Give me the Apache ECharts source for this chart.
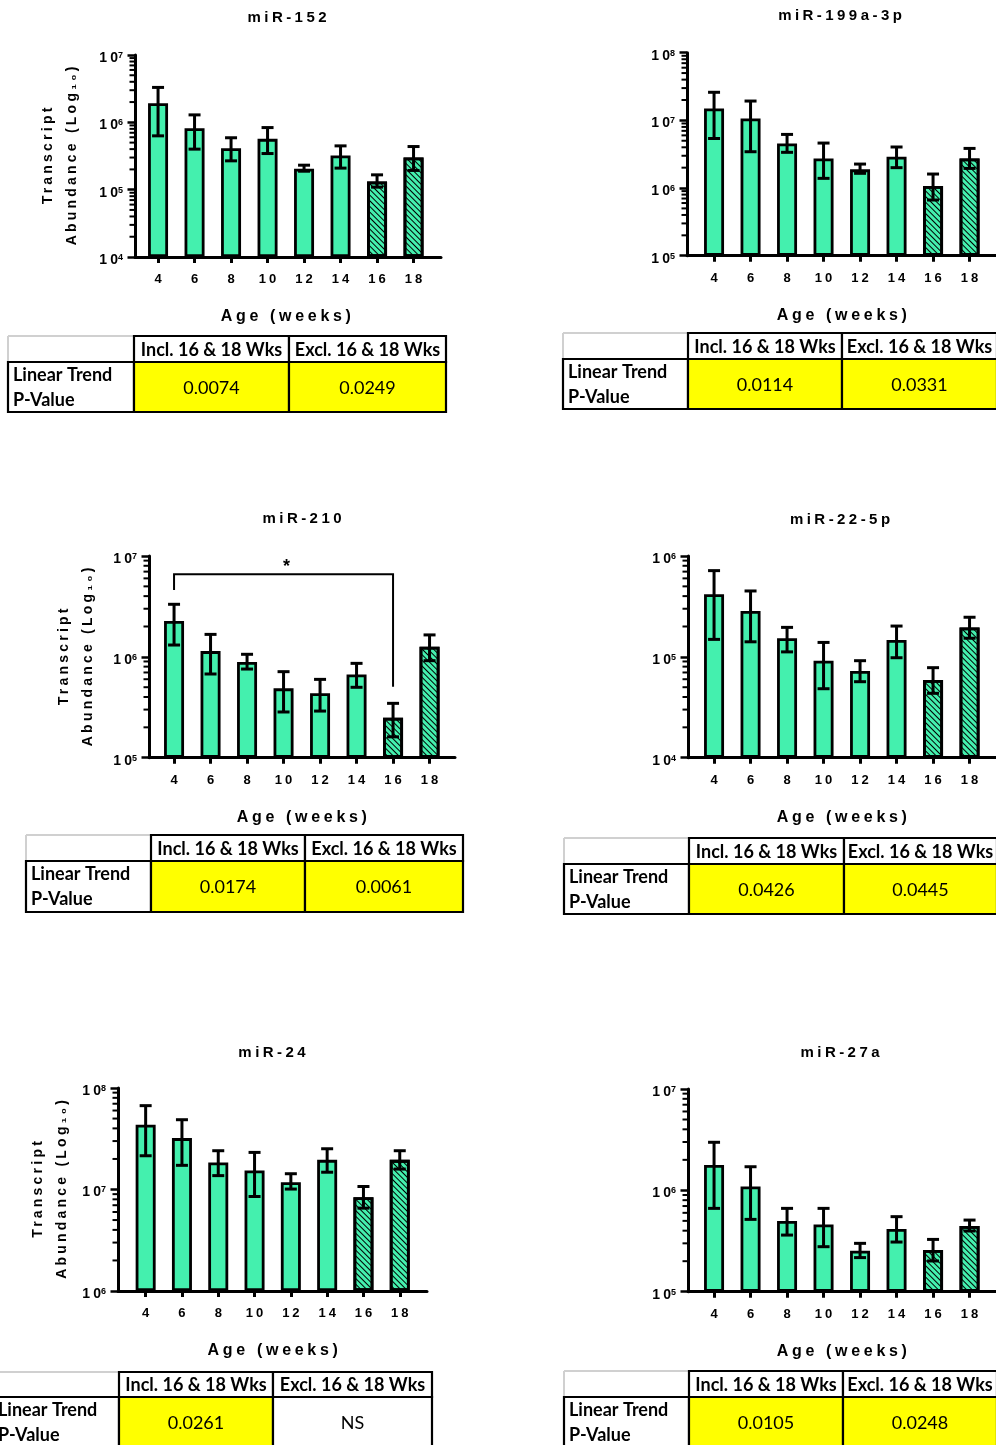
<!DOCTYPE html>
<html><head><meta charset="utf-8">
<style>html,body{margin:0;padding:0;background:#fff}#c{width:996px;height:1445px}</style>
<script src="https://cdn.jsdelivr.net/npm/echarts@6/dist/echarts.min.js"></script>
</head><body><div id="c"></div>
<script>
// ---------- DATA ----------
const ages = ['4','6','8','10','12','14','16','18'];
const hatchedAges = ['16','18'];
const xAxisName = 'Age (weeks)';
const yAxisName = 'Transcript\nAbundance (Log\u2081\u2080)';
const titles = ['miR-152','miR-199a-3p','miR-210','miR-22-5p','miR-24','miR-27a'];

const mean152 = [1.92e6, 8.2e5, 4.13e5, 5.68e5, 2.04e5, 3.21e5, 1.32e5, 3.0e5];
const hi152   = [3.3e6, 1.29e6, 5.9e5, 8.36e5, 2.31e5, 4.47e5, 1.66e5, 4.37e5];
const lo152   = [6.3e5, 4.0e5, 2.68e5, 3.44e5, 1.88e5, 2.09e5, 1.09e5, 1.93e5];

const mean199 = [1.50e7, 1.07e7, 4.57e6, 2.74e6, 1.89e6, 2.9e6, 1.07e6, 2.74e6];
const hi199   = [2.6e7, 1.93e7, 6.2e6, 4.62e6, 2.26e6, 4.04e6, 1.61e6, 3.85e6];
const lo199   = [5.4e6, 3.44e6, 3.37e6, 1.39e6, 1.65e6, 2.0e6, 6.65e5, 1.95e6];

const mean210 = [2.27e6, 1.14e6, 8.89e5, 4.87e5, 4.35e5, 6.7e5, 2.49e5, 1.26e6];
const hi210   = [3.32e6, 1.67e6, 1.06e6, 7.13e5, 5.98e5, 8.62e5, 3.46e5, 1.65e6];
const lo210   = [1.31e6, 6.76e5, 7.57e5, 2.84e5, 2.9e5, 4.99e5, 1.61e5, 9.16e5];

const mean22 = [4.17e5, 2.85e5, 1.53e5, 9.16e4, 7.24e4, 1.47e5, 5.89e4, 1.96e5];
const hi22   = [7.16e5, 4.5e5, 1.96e5, 1.39e5, 9.16e4, 2.02e5, 7.81e4, 2.47e5];
const lo22   = [1.49e5, 1.41e5, 1.12e5, 4.83e4, 5.67e4, 9.8e4, 4.35e4, 1.53e5];

const mean24 = [4.35e7, 3.21e7, 1.85e7, 1.54e7, 1.18e7, 1.96e7, 8.4e6, 1.96e7];
const hi24   = [6.7e7, 4.87e7, 2.41e7, 2.32e7, 1.43e7, 2.52e7, 1.07e7, 2.41e7];
const lo24   = [2.15e7, 1.73e7, 1.37e7, 8.53e6, 1.01e7, 1.48e7, 6.55e6, 1.59e7];

const mean27 = [1.78e6, 1.09e6, 4.98e5, 4.61e5, 2.54e5, 4.15e5, 2.58e5, 4.45e5];
const hi27   = [2.98e6, 1.71e6, 6.64e5, 6.64e5, 3.0e5, 5.5e5, 3.28e5, 5.09e5];
const lo27   = [6.64e5, 5.17e5, 3.62e5, 2.78e5, 2.17e5, 3.09e5, 2.01e5, 3.97e5];

const yMin = [1e4, 1e5, 1e5, 1e4, 1e6, 1e5];
const yMax = [1e7, 1e8, 1e7, 1e6, 1e8, 1e7];

const tableHeader = ['', 'Incl. 16 & 18 Wks', 'Excl. 16 & 18 Wks'];
const rowLabel = ['Linear Trend', 'P-Value'];
const pIncl = ['0.0074', '0.0114', '0.0174', '0.0426', '0.0261', '0.0105'];
const pExcl = ['0.0249', '0.0331', '0.0061', '0.0445', 'NS', '0.0248'];

// significance bracket on miR-210 (data space): from age, to age; bar level, left end, right end
const sig210From = '4', sig210To = '16';
const sig210Levels = [6.6e6, 4.6e6, 5.06e5];
const sig210Label = '*';

// ---------- LAYOUT (positions / sizes only) ----------
const layout = [
  {frame:[135, 55, 306, 202],   barLeft:139.8, barWidth:292, title:[287, 18],   yName:true,  yNameGap:51, table:{cols:[8,134,289,446],   rows:[336,362,412]}},
  {frame:[687, 52.7, 312, 203], barLeft:695.8, barWidth:292, title:[840, 16],   yName:false, yNameGap:51, table:{cols:[563,688,842,997], rows:[333,359,409]}},
  {frame:[149, 556, 306, 201.7],barLeft:155.8, barWidth:292, title:[302, 519],  yName:true,  yNameGap:49, table:{cols:[26,151,305,463],  rows:[835,861,912]}},
  {frame:[688, 556, 312, 201.7],barLeft:695.8, barWidth:292, title:[840, 520],  yName:false, yNameGap:49, table:{cols:[564,689,844,997], rows:[838,864,914]}},
  {frame:[118, 1088, 309, 203], barLeft:127.5, barWidth:290.4, title:[272, 1053], yName:true, yNameGap:44, table:{cols:[-7,119,273,432],  rows:[1372,1397,1447]}},
  {frame:[688, 1089, 312, 202.7],barLeft:695.8, barWidth:292, title:[840, 1053], yName:false, yNameGap:44, table:{cols:[564,689,843,997], rows:[1371,1397,1447]}}
];

const FONT = "'Liberation Sans', Arial, sans-serif";
const TFONT = "Lato, 'Open Sans', sans-serif";
const BAR = '#44F0AE';

// The figure's chart text (exported from GraphPad) is letter-spaced; give the
// Liberation Sans text the same tracking when it is painted.
(function () {
  const P = CanvasRenderingContext2D.prototype;
  const orig = P.fillText;
  P.fillText = function (text, x, y, maxW) {
    if ('letterSpacing' in this) {
      const m = /(\d+(?:\.\d+)?)px\s+["']?Liberation Sans/.exec(this.font);
      if (m) {
        const ls = parseFloat(m[1]) * 0.23;
        this.letterSpacing = ls.toFixed(2) + 'px';
        if (this.textAlign === 'center') x += ls / 2;
        else if (this.textAlign === 'right' || this.textAlign === 'end') x += ls;
      } else {
        this.letterSpacing = '0px';
      }
    }
    return maxW === undefined ? orig.call(this, text, x, y) : orig.call(this, text, x, y, maxW);
  };
})();

const panels = [
  {mean:mean152, hi:hi152, lo:lo152},
  {mean:mean199, hi:hi199, lo:lo199},
  {mean:mean210, hi:hi210, lo:lo210},
  {mean:mean22,  hi:hi22,  lo:lo22},
  {mean:mean24,  hi:hi24,  lo:lo24},
  {mean:mean27,  hi:hi27,  lo:lo27}
];

const grid = [], xAxis = [], yAxis = [], series = [], title = [], graphic = [];

panels.forEach((p, k) => {
  const L = layout[k];
  const [fl, ft, fw, fh] = L.frame;
  const gi = k * 2;
  grid.push({left: fl, top: ft, width: fw, height: fh, containLabel: false, outerBoundsMode: 'none'});
  grid.push({left: L.barLeft, top: ft, width: L.barWidth, height: fh, containLabel: false, outerBoundsMode: 'none'});

  // frame axes
  xAxis.push({type: 'value', gridIndex: gi, min: 0, max: 1,
    axisLine: {show: true, lineStyle: {color: '#000', width: 3}},
    axisTick: {show: false}, axisLabel: {show: false}, splitLine: {show: false}});
  yAxis.push({type: 'log', logBase: 10, gridIndex: gi, min: yMin[k], max: yMax[k],
    axisLine: {show: true, lineStyle: {color: '#000', width: 3}},
    axisTick: {show: true, length: 7.5, lineStyle: {color: '#000', width: 2.5}},
    splitLine: {show: false}, minorTick: {show: false},
    axisLabel: {margin: 12, padding: [6, 0, 0, 0], formatter: v => `{b|10}{s|${Math.round(Math.log10(v))}}`,
      rich: {
        b: {fontFamily: FONT, fontWeight: 'bold', fontSize: 14, color: '#000', lineHeight: 14},
        s: {fontFamily: FONT, fontWeight: 'bold', fontSize: 9, color: '#000', lineHeight: 9, verticalAlign: 'top'}
      }},
    name: L.yName ? yAxisName : '',
    nameLocation: 'middle', nameGap: L.yNameGap, nameRotate: 90,
    nameTextStyle: {fontFamily: FONT, fontWeight: 'bold', fontSize: 14, color: '#000', lineHeight: 24}
  });

  // bar axes
  xAxis.push({type: 'category', gridIndex: gi + 1, data: ages,
    axisLine: {show: false},
    axisTick: {show: true, alignWithLabel: true, length: 6, lineStyle: {color: '#000', width: 3}},
    axisLabel: {interval: 0, margin: 16, color: '#000', fontFamily: FONT, fontWeight: 'bold', fontSize: 13},
    splitLine: {show: false},
    name: xAxisName, nameLocation: 'middle', nameGap: 52,
    nameTextStyle: {color: '#000', fontFamily: FONT, fontWeight: 'bold', fontSize: 16}});
  yAxis.push({type: 'log', logBase: 10, gridIndex: gi + 1, min: yMin[k], max: yMax[k], startValue: yMin[k], show: false});

  // minor ticks on the frame y axis (2..9 x 10^n)
  const minor = [];
  for (let e = Math.round(Math.log10(yMin[k])); e < Math.round(Math.log10(yMax[k])); e++)
    for (let m = 2; m <= 9; m++) minor.push([0, m * Math.pow(10, e)]);
  series.push({type: 'custom', xAxisIndex: gi, yAxisIndex: gi, silent: true, z: 5,
    data: minor, encode: {x: 0, y: 1},
    renderItem: (params, api) => {
      const c = api.coord([api.value(0), api.value(1)]);
      return {type: 'line', shape: {x1: c[0] - 5.5, y1: c[1], x2: c[0], y2: c[1]},
        style: {stroke: '#000', lineWidth: 2}};
    }});

  // bars
  series.push({type: 'bar', xAxisIndex: gi + 1, yAxisIndex: gi + 1, barWidth: 20, silent: true, z: 3,
    itemStyle: {color: BAR, borderColor: '#000', borderWidth: 2.8},
    data: p.mean.map((v, i) => hatchedAges.includes(ages[i]) ? {
      value: v,
      itemStyle: {decal: {symbol: 'rect', symbolSize: 1, dashArrayX: [1, 0], dashArrayY: [1, 2.4],
        rotation: Math.PI / 4, color: '#000'}}
    } : v)
  });

  // error bars
  series.push({type: 'custom', xAxisIndex: gi + 1, yAxisIndex: gi + 1, silent: true, z: 6,
    data: ages.map((a, i) => [i, p.lo[i], p.hi[i]]), encode: {x: 0, y: [1, 2]},
    renderItem: (params, api) => {
      const lo = api.coord([api.value(0), api.value(1)]);
      const hi = api.coord([api.value(0), api.value(2)]);
      const hw = 6;
      const st = {stroke: '#000', lineWidth: 3};
      return {type: 'group', children: [
        {type: 'line', shape: {x1: lo[0], y1: lo[1], x2: hi[0], y2: hi[1]}, style: st},
        {type: 'line', shape: {x1: hi[0] - hw, y1: hi[1], x2: hi[0] + hw, y2: hi[1]}, style: st},
        {type: 'line', shape: {x1: lo[0] - hw, y1: lo[1], x2: lo[0] + hw, y2: lo[1]}, style: st}
      ]};
    }});

  // title
  title.push({text: titles[k], left: L.title[0], top: L.title[1] - 8, textAlign: 'center', padding: 0,
    textStyle: {fontFamily: FONT, fontWeight: 'bold', fontSize: 15, color: '#000'}});

  // table
  const {cols, rows} = L.table;
  const lw = 2.2;
  graphic.push({type: 'line', silent: true, shape: {x1: cols[0], y1: rows[0], x2: cols[1], y2: rows[0]}, style: {stroke: '#D0D0D0', lineWidth: 2}});
  graphic.push({type: 'line', silent: true, shape: {x1: cols[0], y1: rows[0], x2: cols[0], y2: rows[1]}, style: {stroke: '#D0D0D0', lineWidth: 2}});
  for (let c = 1; c < 3; c++) {
    graphic.push({type: 'rect', silent: true, shape: {x: cols[c], y: rows[0], width: cols[c + 1] - cols[c], height: rows[1] - rows[0]},
      style: {fill: '#fff', stroke: '#000', lineWidth: lw}});
  }
  const vals = ['', pIncl[k], pExcl[k]];
  for (let c = 0; c < 3; c++) {
    const fill = (c === 0 || vals[c] === 'NS') ? '#fff' : '#FFFF00';
    graphic.push({type: 'rect', silent: true, shape: {x: cols[c], y: rows[1], width: cols[c + 1] - cols[c], height: rows[2] - rows[1]},
      style: {fill: fill, stroke: '#000', lineWidth: lw}});
  }
  for (let c = 1; c < 3; c++) {
    graphic.push({type: 'text', silent: true, x: (cols[c] + cols[c + 1]) / 2, y: (rows[0] + rows[1]) / 2 + 1,
      style: {text: tableHeader[c], font: `bold 18px ${TFONT}`, fill: '#000', align: 'center', verticalAlign: 'middle'}});
    graphic.push({type: 'text', silent: true, x: (cols[c] + cols[c + 1]) / 2, y: (rows[1] + rows[2]) / 2 + 1,
      style: {text: vals[c], font: `18px ${TFONT}`, fill: '#000', align: 'center', verticalAlign: 'middle'}});
  }
  graphic.push({type: 'text', silent: true, x: cols[0] + 5, y: rows[1] + 13,
    style: {text: rowLabel[0], font: `bold 18px ${TFONT}`, fill: '#000', align: 'left', verticalAlign: 'middle'}});
  graphic.push({type: 'text', silent: true, x: cols[0] + 5, y: rows[1] + 38,
    style: {text: rowLabel[1], font: `bold 18px ${TFONT}`, fill: '#000', align: 'left', verticalAlign: 'middle'}});
});

// significance bracket in miR-210 panel (panel index 2)
series.push({type: 'custom', xAxisIndex: 5, yAxisIndex: 5, silent: true, z: 6,
  data: [[ages.indexOf(sig210From), ages.indexOf(sig210To), sig210Levels[0], sig210Levels[1], sig210Levels[2]]],
  encode: {x: [0, 1], y: [2, 3, 4]},
  renderItem: (params, api) => {
    const a = api.coord([api.value(0), api.value(3)]);
    const b = api.coord([api.value(0), api.value(2)]);
    const c = api.coord([api.value(1), api.value(2)]);
    const d = api.coord([api.value(1), api.value(4)]);
    return {type: 'group', children: [
      {type: 'polyline', shape: {points: [a, b, c, d]}, style: {stroke: '#000', lineWidth: 2, fill: null}},
      {type: 'text', x: (b[0] + c[0]) / 2 + 3, y: b[1] + 2,
        style: {text: sig210Label, font: `bold 18px ${FONT}`, fill: '#000', align: 'center', verticalAlign: 'bottom'}}
    ]};
  }});

const chart = echarts.init(document.getElementById('c'), null, {renderer: 'canvas', width: 996, height: 1445});
chart.setOption({
  backgroundColor: '#fff',
  animation: false,
  title, grid, xAxis, yAxis, series, graphic
});
</script>
</body></html>
